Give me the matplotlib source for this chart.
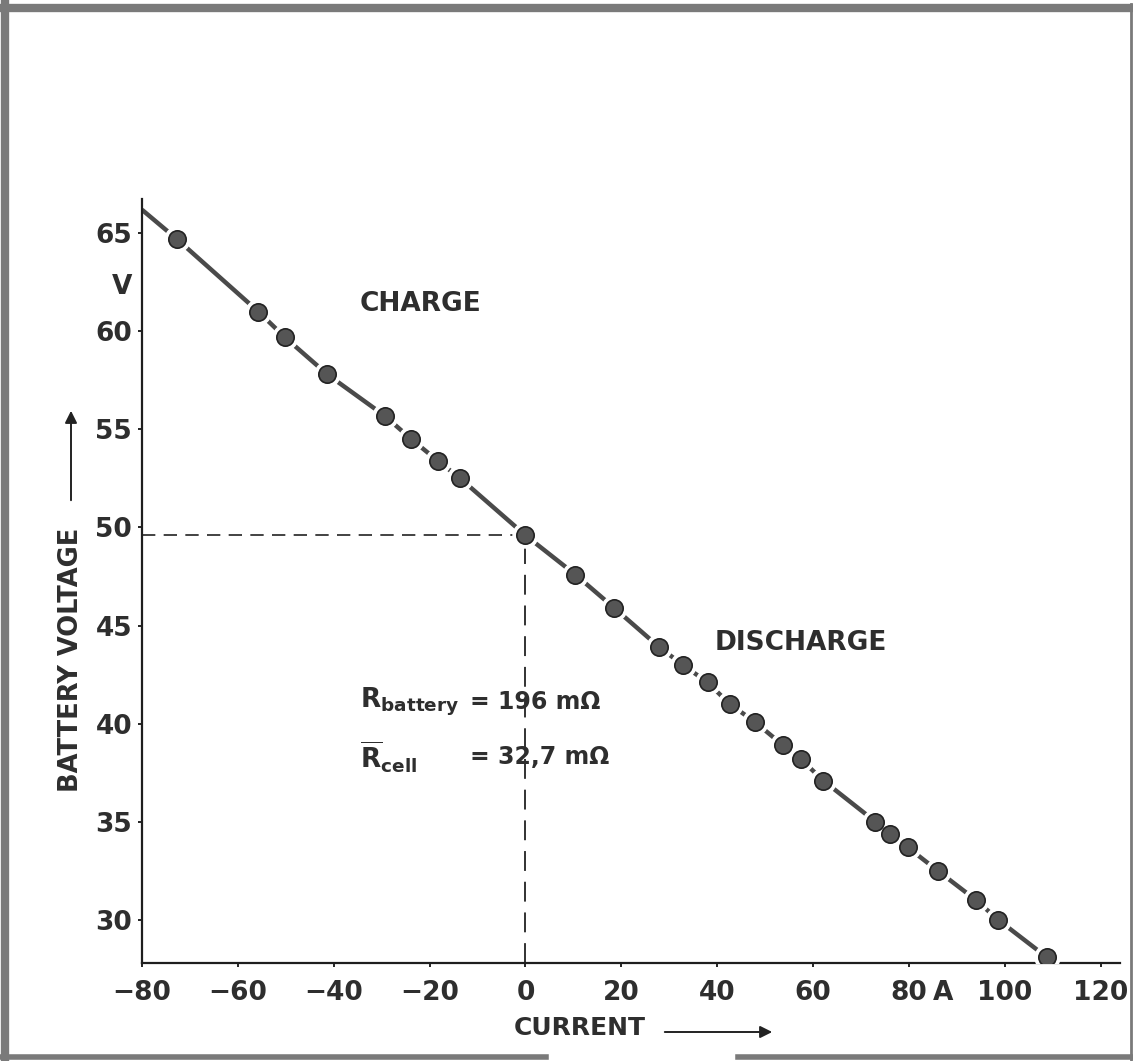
import numpy as np
import matplotlib.pyplot as plt
from matplotlib.lines import Line2D

plt.rcParams['font.family'] = ['DejaVu Sans']
plt.rcParams['font.weight'] = 'bold'
plt.rcParams['mathtext.fontset'] = 'custom'
plt.rcParams['mathtext.rm'] = 'DejaVu Sans:bold'
plt.rcParams['mathtext.bf'] = 'DejaVu Sans:bold'

# measured points (current in A, battery voltage in V)
current = [-72.7, -55.7, -50.2, -41.3, -29.4, -23.8, -18.3, -13.6, 0.0, 10.4,
           18.5, 27.9, 32.8, 38.0, 42.6, 47.8, 53.7, 57.4, 62.1, 73.0,
           76.1, 79.7, 86.0, 94.0, 98.6, 108.7]
voltage = [64.7, 61.0, 59.7, 57.8, 55.7, 54.5, 53.4, 52.5, 49.6, 47.6,
           45.9, 43.9, 43.0, 42.1, 41.0, 40.1, 38.9, 38.2, 37.1, 35.0,
           34.4, 33.7, 32.5, 31.0, 30.0, 28.1]

# start of the drawn line at the left edge
line_start = (-80, 66.2)
v_open = 49.6   # voltage at zero current

xticks = [-80, -60, -40, -20, 0, 20, 40, 60, 80, 100, 120]
xticklabels = ['\u221280', '\u221260', '\u221240', '\u221220', '0', '20', '40', '60', '80', '100', '120']
yticks = [30, 35, 40, 45, 50, 55, 60, 65]

ink = '#2e2e2e'

fig = plt.figure(figsize=(11.33, 10.61), dpi=100)
ax = fig.add_axes([0.1253, 0.0924, 0.8632, 0.7201])

ax.plot([line_start[0]] + current, [line_start[1]] + voltage, color='#4a4a4a', lw=3.2,
        solid_capstyle='butt', zorder=2)
ax.plot(current, voltage, 'o', ms=18, color='white', zorder=3)
ax.plot(current, voltage, 'o', ms=12.5, mfc='#555555', mec='#222222', mew=1.2, zorder=4)

# reference lines at zero current
ax.plot([-80, 0], [v_open, v_open], color='#222222', lw=1.2, dashes=(8, 5), zorder=1)
ax.plot([0, 0], [27.8, v_open], color='#222222', lw=1.3, dashes=(11, 6), zorder=1)

ax.set_xlim(-80, 124)
ax.set_ylim(27.8, 66.75)

for s in ['top', 'right']:
    ax.spines[s].set_visible(False)
for s in ['left', 'bottom']:
    ax.spines[s].set_linewidth(1.6)
    ax.spines[s].set_color('#1e1e1e')

ax.set_xticks(xticks, labels=xticklabels)
ax.set_yticks(yticks)
ax.set_xticks([87.2], labels=['A'], minor=True)
ax.set_yticks([62.4], labels=['V'], minor=True)
ax.tick_params(which='major', direction='out', length=3, width=1.2,
               labelsize=19, labelcolor=ink)
ax.tick_params(axis='x', which='major', pad=9)
ax.tick_params(axis='y', which='major', pad=4)
ax.tick_params(axis='x', which='minor', length=0, pad=12, labelsize=19, labelcolor=ink)
ax.tick_params(axis='y', which='minor', length=0, pad=7, labelsize=19, labelcolor=ink)

ax.text(-34.5, 61.4, 'CHARGE', fontsize=19, color=ink, ha='left', va='center')
ax.text(39.5, 44.1, 'DISCHARGE', fontsize=19, color=ink, ha='left', va='center')

ax.text(-34.6, 41.1, r'$\mathrm{R_{battery}}$', fontsize=19, color=ink, ha='left', va='center')
ax.text(-11.6, 41.1, '= 196 m\u03a9', fontsize=17, color=ink, ha='left', va='center')
ax.text(-34.6, 38.3, r'$\overline{\mathrm{R}}\mathrm{_{cell}}$', fontsize=19, color=ink,
        ha='left', va='center')
ax.text(-11.6, 38.3, '= 32,7 m\u03a9', fontsize=17, color=ink, ha='left', va='center')

# axis titles with arrows
fig.text(71 / 1133, 1 - 660 / 1061, 'BATTERY VOLTAGE', rotation=90, fontsize=18.5,
         color=ink, ha='center', va='center')
fig.add_artist(plt.Annotation('', xy=(71 / 1133, 1 - 408 / 1061), xytext=(71 / 1133, 1 - 503 / 1061),
                              xycoords='figure fraction', textcoords='figure fraction',
                              arrowprops=dict(arrowstyle='-|>', color='#222222', lw=1.4,
                                              mutation_scale=18)))
fig.text(580 / 1133, 1 - 1028 / 1061, 'CURRENT', fontsize=18, color=ink,
         ha='center', va='center')
fig.add_artist(plt.Annotation('', xy=(775 / 1133, 1 - 1032 / 1061), xytext=(662 / 1133, 1 - 1032 / 1061),
                              xycoords='figure fraction', textcoords='figure fraction',
                              arrowprops=dict(arrowstyle='-|>', color='#222222', lw=1.4,
                                              mutation_scale=18)))

# scanned frame around the figure
frame = '#7a7a7a'
fig.add_artist(Line2D([0.004, 0.004], [0.0, 0.996], color=frame, lw=6))
fig.add_artist(Line2D([0.0, 1.0], [0.992, 0.992], color=frame, lw=6))
fig.add_artist(Line2D([0.998, 0.998], [0.0, 0.996], color=frame, lw=2))
fig.add_artist(Line2D([0.0, 546 / 1133], [0.004, 0.004], color=frame, lw=4))
fig.add_artist(Line2D([738 / 1133, 1.0], [0.004, 0.004], color=frame, lw=4))

fig.savefig('out.png', dpi=100)
